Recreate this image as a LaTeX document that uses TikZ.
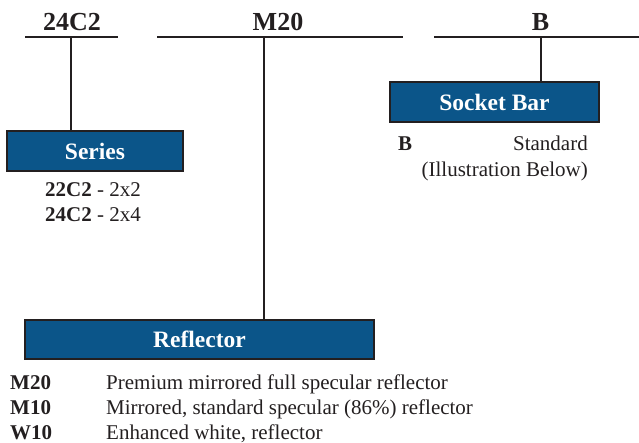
\documentclass[tikz,border=0pt]{standalone}
\usepackage{fontspec}
\setmainfont{Liberation Serif}
\definecolor{ink}{HTML}{231F20}
\definecolor{boxblue}{HTML}{0B5589}
\begin{document}
\begin{tikzpicture}[x=1pt,y=-1pt,
  rule/.style={draw=ink,line width=2pt},
  catbox/.style={draw=ink,line width=2.2pt,fill=boxblue,text=white,font=\bfseries\fontsize{23.5}{26}\selectfont,inner sep=0pt},
  codehead/.style={text=ink,font=\bfseries\fontsize{26}{28}\selectfont,inner sep=0pt},
  body/.style={text=ink,font=\fontsize{21}{24}\selectfont,inner sep=0pt},
  bodyb/.style={text=ink,font=\bfseries\fontsize{21}{24}\selectfont,inner sep=0pt}]
\useasboundingbox (0,0) rectangle (639,443);
% headers
\node[codehead,anchor=base] (h1) at (72,31) {24C2};
\node[codehead,anchor=base] (h2) at (278,31) {M20};
\node[codehead,anchor=base] (h3) at (540.5,31) {B};
\coordinate (l1a) at (25,37); \coordinate (l1b) at (118,37);
\coordinate (l2a) at (157,37); \coordinate (l2b) at (403,37);
\coordinate (l3a) at (434,37); \coordinate (l3b) at (639,37);
\draw[rule] (l1a) -- (l1b);
\draw[rule] (l2a) -- (l2b);
\draw[rule] (l3a) -- (l3b);
% boxes
\node[catbox,minimum width=176pt,minimum height=40pt] (series) at (95,151) {Series};
\node[catbox,minimum width=209pt,minimum height=40pt] (socket) at (494.5,102) {Socket Bar};
\node[catbox,minimum width=349pt,minimum height=39pt] (refl) at (199.5,339.5) {Reflector};
% stems
\coordinate (s1) at (71,37); \coordinate (s2) at (264,37); \coordinate (s3) at (541,37);
\draw[rule] (s1) -- (s1 |- series.north);
\draw[rule] (s2) -- (s2 |- refl.north);
\draw[rule] (s3) -- (s3 |- socket.north);
% series list
\node[body,anchor=base west] (sa) at (45,197) {\textbf{22C2} - 2x2};
\node[body,anchor=base west] (sb) at (45,222) {\textbf{24C2} - 2x4};
% socket bar
\node[bodyb,anchor=base west] (ba) at (398,151) {B};
\node[body,anchor=base east] (bb) at (588,151) {Standard};
\node[body,anchor=base east] (bc) at (588,177) {(Illustration Below)};
% reflector list
\node[bodyb,anchor=base west] (r1) at (10,389) {M20};
\node[body,anchor=base west] (r1d) at (106,389) {Premium mirrored full specular reflector};
\node[bodyb,anchor=base west] (r2) at (10,414) {M10};
\node[body,anchor=base west] (r2d) at (106,414) {Mirrored, standard specular (86\%) reflector};
\node[bodyb,anchor=base west] (r3) at (10,439) {W10};
\node[body,anchor=base west] (r3d) at (106,439) {Enhanced white, reflector};
\end{tikzpicture}
\end{document}
